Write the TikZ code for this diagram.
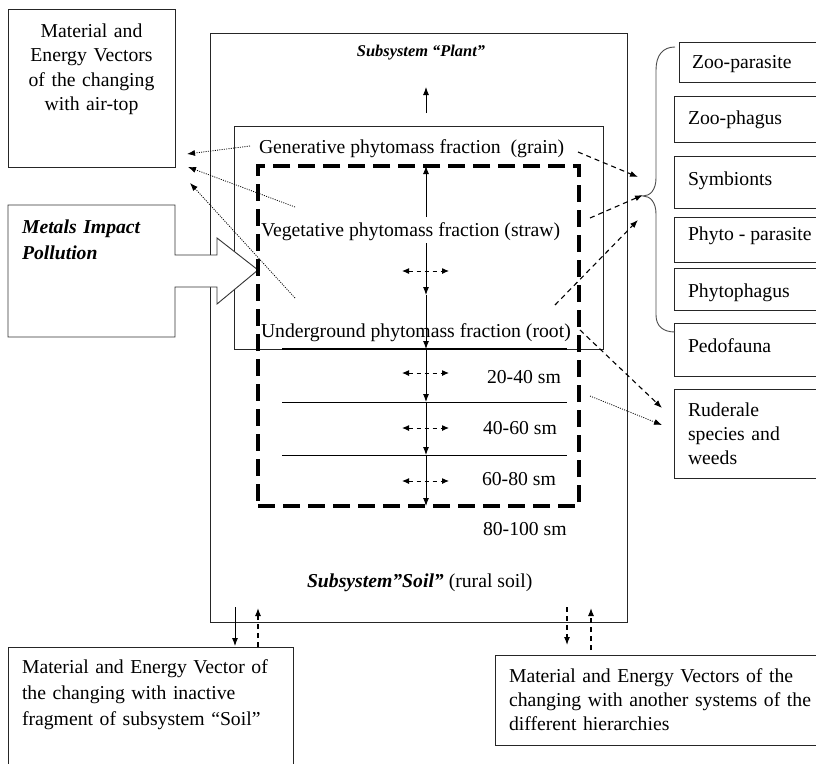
\documentclass[tikz,border=0pt]{standalone}
\usepackage{fontspec}
\setmainfont{Liberation Serif}
\usetikzlibrary{arrows.meta}
\begin{document}
\begin{tikzpicture}[x=1pt,y=-1pt,
  every node/.style={inner sep=0pt, outer sep=0pt},
  txt/.style={font=\fontsize{19.7}{24.5}\selectfont, anchor=base west},
  box/.style={draw=black!85, line width=0.9pt, anchor=north west},
  tipA/.style={-{Latex[length=8pt,width=6pt]}},
  solidarrow/.style={tipA, line width=0.9pt},
  dasharrow/.style={tipA, line width=1.1pt, dash pattern=on 5pt off 4pt},
  dotarrow/.style={tipA, line width=0.8pt, dash pattern=on 1pt off 1.3pt},
  twoway/.style={{Latex[length=7pt,width=6pt]}-{Latex[length=7pt,width=6pt]}, line width=1pt, dash pattern=on 4pt off 4pt},
  bracestyle/.style={draw=black!70, line width=0.9pt},
]
\useasboundingbox (0,0) rectangle (816,763);

% boxes
\node[box, minimum width=167pt, minimum height=158pt] (air) at (8,9) {};
\node[box, minimum width=417pt, minimum height=589pt] (main) at (210,33) {};
\node[box, minimum width=369pt, minimum height=223pt] (plant) at (234,126) {};

% Metals impact block arrow
\draw[draw=black!80, fill=white, line width=0.9pt]
  (8,205) -- (175,205) -- (175,255) -- (217,255) -- (217,238) -- (258,270)
  -- (217,304) -- (217,287) -- (175,287) -- (175,337) -- (8,337) -- cycle;
\coordinate (metaltip) at (258,270);

% thick dashed box
\node[draw, line width=4pt, dash pattern=on 17pt off 8pt, anchor=north west,
      minimum width=321pt, minimum height=340pt] (soilzone) at (258,166) {};

% right boxes
\node[box, minimum width=145pt, minimum height=40pt] (zpar) at (679,42) {};
\node[box, minimum width=150pt, minimum height=46pt] (zpha) at (674,96) {};
\node[box, minimum width=150pt, minimum height=52pt] (symb) at (674,156) {};
\node[box, minimum width=150pt, minimum height=45pt] (ppar) at (674,217) {};
\node[box, minimum width=150pt, minimum height=42pt] (ppha) at (674,268) {};
\node[box, minimum width=150pt, minimum height=53pt] (pedo) at (674,323) {};
\node[box, minimum width=150pt, minimum height=89pt] (rude) at (674,389) {};

% bottom boxes
\node[box, minimum width=285pt, minimum height=130pt] (inact) at (8,647) {};
\node[box, minimum width=330pt, minimum height=90pt] (other) at (495,655) {};

% texts
\node[txt, anchor=base, text width=165pt, align=center] (tair) at (91.5,37)
  {Material and\\Energy Vectors\\of the changing\\with air-top};
\node[font=\fontsize{16.4}{20}\selectfont\bfseries\itshape, anchor=base] (tplant) at (421,56) {Subsystem “Plant”};
\node[txt] (tgen) at (259,153) {Generative phytomass fraction\ \ (grain)};
\node[txt] (tveg) at (261,236) {Vegetative phytomass fraction (straw)};
\node[txt] (tund) at (261,337) {Underground phytomass fraction (root)};
\node[txt] (d1) at (487,383) {20-40 sm};
\node[txt] (d2) at (483,434) {40-60 sm};
\node[txt] (d3) at (482,485) {60-80 sm};
\node[txt] (d4) at (483,535) {80-100 sm};
\node[txt] (tsoil) at (307,587) {{\bfseries\itshape Subsystem”Soil”} (rural soil)};
\node[txt, text width=150pt, align=left, font=\fontsize{19.7}{26}\selectfont\bfseries\itshape] (tmetal) at (22,233)
  {Metals Impact\\Pollution};
\node[txt] (tzpar) at (692,68) {Zoo-parasite};
\node[txt] (tzpha) at (688,124) {Zoo-phagus};
\node[txt] (tsymb) at (688,185) {Symbionts};
\node[txt] (tppar) at (688,240) {Phyto - parasite};
\node[txt] (tppha) at (688,297) {Phytophagus};
\node[txt] (tpedo) at (688,352) {Pedofauna};
\node[txt, text width=125pt, align=left, font=\fontsize{19.7}{24}\selectfont] (trude) at (688,416)
  {Ruderale\\species and\\weeds};
\node[txt, text width=270pt, align=left, font=\fontsize{19.7}{26}\selectfont] (tinact) at (22,673)
  {Material and Energy Vector of\\the changing with inactive\\fragment of subsystem “Soil”};
\node[txt, text width=340pt, align=left, font=\fontsize{19.7}{24}\selectfont] (tother) at (509,682)
  {Material and Energy Vectors of the\\changing with another systems of the\\different hierarchies};

% horizons
\coordinate (h0a) at (282,349); \coordinate (h0b) at (567,349);
\coordinate (h1a) at (282,402); \coordinate (h1b) at (567,402);
\coordinate (h2a) at (282,455); \coordinate (h2b) at (567,455);
\draw[line width=2.6pt] (h0a) -- (h0b);
\draw[line width=1pt] (h1a) -- (h1b);
\draw[line width=1pt] (h2a) -- (h2b);

% central vertical arrows
\coordinate (up0) at (426,113); \coordinate (up1) at (426,87);
\draw[solidarrow] (up0) -- (up1);
\coordinate (v0) at (426,217); \coordinate (v1) at (426,166);
\draw[solidarrow] (v0) -- (v1);
\coordinate (w0) at (426,243);
\coordinate (w1) at (426,295);
\coordinate (w2) at (426,349);
\coordinate (w3) at (426,402);
\coordinate (w4) at (426,455);
\coordinate (w5) at (426,506);
\draw[solidarrow] (w0) -- (w1);
\draw[solidarrow] (w1) -- (w2);
\draw[solidarrow] (w2) -- (w3);
\draw[solidarrow] (w3) -- (w4);
\draw[solidarrow] (w4) -- (w5);

% two-way horizontal arrows
\foreach \yy/\nm in {271/ta, 373/tb, 428/tc, 481/td} {
  \coordinate (\nm l) at (402,\yy);
  \coordinate (\nm r) at (449,\yy);
  \draw[twoway] (\nm l) -- (\nm r);
}

% brace
\coordinate (btip) at (643,196);
\draw[bracestyle] (675,47) .. controls (663,47) and (656,55) .. (656,70) -- (656,178)
  .. controls (656,190) and (650,196) .. (btip)
  .. controls (650,196) and (656,202) .. (656,214) -- (656,315)
  .. controls (656,326) and (663,332) .. (675,332);

% dashed arrows to brace
\coordinate (g1) at (578,152); \coordinate (g1e) at (638,177);
\coordinate (g2) at (590,218); \coordinate (g2e) at (643,195);
\coordinate (g3) at (555,305); \coordinate (g3e) at (638,220);
\draw[dasharrow] (g1) -- (g1e);
\draw[dasharrow] (g2) -- (g2e);
\draw[dasharrow] (g3) -- (g3e);

% to ruderale
\coordinate (r1) at (580,330); \coordinate (r1e) at (662,408);
\coordinate (r2) at (590,396); \coordinate (r2e) at (662,425);
\draw[dasharrow] (r1) -- (r1e);
\draw[dotarrow] (r2) -- (r2e);

% dotted arrows to air box
\coordinate (a1) at (250,146); \coordinate (a1e) at (187,154);
\coordinate (a2) at (295,207); \coordinate (a2e) at (188,167);
\coordinate (a3) at (295,298); \coordinate (a3e) at (190,183);
\draw[dotarrow] (a1) -- (a1e);
\draw[dotarrow] (a2) -- (a2e);
\draw[dotarrow] (a3) -- (a3e);

% bottom arrows
\coordinate (b1) at (235,607); \coordinate (b1e) at (235,646);
\coordinate (b2) at (258,647); \coordinate (b2e) at (258,608);
\coordinate (b3) at (567,607); \coordinate (b3e) at (567,645);
\coordinate (b4) at (591,650); \coordinate (b4e) at (591,608);
\draw[solidarrow] (b1) -- (b1e);
\draw[dasharrow] (b2) -- (b2e);
\draw[dasharrow] (b3) -- (b3e);
\draw[dasharrow] (b4) -- (b4e);
\end{tikzpicture}
\end{document}
